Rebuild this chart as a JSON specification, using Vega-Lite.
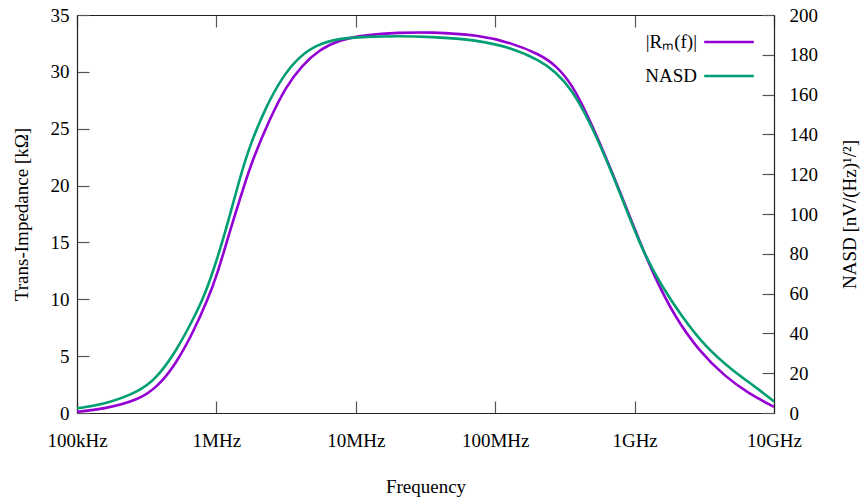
{
  "$schema": "https://vega.github.io/schema/vega-lite/v6.json",
  "autosize": {"type": "none"},
  "padding": {"left": 77, "top": 15, "right": 87, "bottom": 89},
  "width": 697,
  "height": 398,
  "background": "white",
  "config": {
    "font": "Liberation Serif",
    "view": {"stroke": null},
    "axis": {
      "labelFont": "Liberation Serif",
      "titleFont": "Liberation Serif",
      "labelFontSize": 19,
      "titleFontSize": 19,
      "titleFontWeight": "normal",
      "labelColor": "#000",
      "titleColor": "#000",
      "domainColor": "#222",
      "domainWidth": 1.2,
      "tickColor": "#555",
      "tickWidth": 1.2,
      "grid": false,
      "tickSize": -12
    }
  },
  "datasets": {
    "d": [
      {"f": 1e5, "s": "|Rₘ(f)|", "v": 0.11},
      {"f": 1.53e5, "s": "|Rₘ(f)|", "v": 0.33},
      {"f": 2.81e5, "s": "|Rₘ(f)|", "v": 1.14},
      {"f": 3.9e5, "s": "|Rₘ(f)|", "v": 2.46},
      {"f": 5.14e5, "s": "|Rₘ(f)|", "v": 4.37},
      {"f": 6.76e5, "s": "|Rₘ(f)|", "v": 7.01},
      {"f": 8.65e5, "s": "|Rₘ(f)|", "v": 9.94},
      {"f": 1.02e6, "s": "|Rₘ(f)|", "v": 12.29},
      {"f": 1.236e6, "s": "|Rₘ(f)|", "v": 15.8},
      {"f": 1.585e6, "s": "|Rₘ(f)|", "v": 20.05},
      {"f": 1.816e6, "s": "|Rₘ(f)|", "v": 22.25},
      {"f": 2.393e6, "s": "|Rₘ(f)|", "v": 25.77},
      {"f": 3.148e6, "s": "|Rₘ(f)|", "v": 28.7},
      {"f": 4.14e6, "s": "|Rₘ(f)|", "v": 30.61},
      {"f": 5.454e6, "s": "|Rₘ(f)|", "v": 31.93},
      {"f": 7.586e6, "s": "|Rₘ(f)|", "v": 32.81},
      {"f": 1.18e7, "s": "|Rₘ(f)|", "v": 33.25},
      {"f": 2.042e7, "s": "|Rₘ(f)|", "v": 33.45},
      {"f": 3.35e7, "s": "|Rₘ(f)|", "v": 33.5},
      {"f": 7.638e7, "s": "|Rₘ(f)|", "v": 33.25},
      {"f": 1.324e8, "s": "|Rₘ(f)|", "v": 32.52},
      {"f": 2.056e8, "s": "|Rₘ(f)|", "v": 31.57},
      {"f": 2.71e8, "s": "|Rₘ(f)|", "v": 30.61},
      {"f": 3.565e8, "s": "|Rₘ(f)|", "v": 28.9},
      {"f": 4.688e8, "s": "|Rₘ(f)|", "v": 25.97},
      {"f": 6.18e8, "s": "|Rₘ(f)|", "v": 22.6},
      {"f": 8.128e8, "s": "|Rₘ(f)|", "v": 19.0},
      {"f": 1.069e9, "s": "|Rₘ(f)|", "v": 15.3},
      {"f": 1.409e9, "s": "|Rₘ(f)|", "v": 11.8},
      {"f": 1.959e9, "s": "|Rₘ(f)|", "v": 8.4},
      {"f": 2.877e9, "s": "|Rₘ(f)|", "v": 5.5},
      {"f": 4.467e9, "s": "|Rₘ(f)|", "v": 3.19},
      {"f": 6.561e9, "s": "|Rₘ(f)|", "v": 1.73},
      {"f": 1e10, "s": "|Rₘ(f)|", "v": 0.53},
      {"f": 1e5, "s": "NASD", "v": 2.36},
      {"f": 1.53e5, "s": "NASD", "v": 4.02},
      {"f": 2.81e5, "s": "NASD", "v": 10.7},
      {"f": 3.69e5, "s": "NASD", "v": 17.44},
      {"f": 4.853e5, "s": "NASD", "v": 28.29},
      {"f": 6.397e5, "s": "NASD", "v": 43.37},
      {"f": 7.962e5, "s": "NASD", "v": 56.78},
      {"f": 9.397e5, "s": "NASD", "v": 70.2},
      {"f": 1.172e6, "s": "NASD", "v": 91.96},
      {"f": 1.459e6, "s": "NASD", "v": 117.1},
      {"f": 1.722e6, "s": "NASD", "v": 133.8},
      {"f": 2.265e6, "s": "NASD", "v": 153.9},
      {"f": 2.979e6, "s": "NASD", "v": 169.0},
      {"f": 3.926e6, "s": "NASD", "v": 179.0},
      {"f": 5.164e6, "s": "NASD", "v": 184.9},
      {"f": 7.586e6, "s": "NASD", "v": 188.3},
      {"f": 1.18e7, "s": "NASD", "v": 189.1},
      {"f": 2.042e7, "s": "NASD", "v": 189.4},
      {"f": 3.35e7, "s": "NASD", "v": 189.1},
      {"f": 7.638e7, "s": "NASD", "v": 187.4},
      {"f": 1.324e8, "s": "NASD", "v": 183.3},
      {"f": 2.056e8, "s": "NASD", "v": 177.4},
      {"f": 2.71e8, "s": "NASD", "v": 171.5},
      {"f": 3.565e8, "s": "NASD", "v": 162.3},
      {"f": 4.688e8, "s": "NASD", "v": 147.2},
      {"f": 6.18e8, "s": "NASD", "v": 128.6},
      {"f": 8.128e8, "s": "NASD", "v": 108.0},
      {"f": 1.13e9, "s": "NASD", "v": 81.9},
      {"f": 1.57e9, "s": "NASD", "v": 63.5},
      {"f": 2.188e9, "s": "NASD", "v": 48.4},
      {"f": 3.214e9, "s": "NASD", "v": 33.3},
      {"f": 4.989e9, "s": "NASD", "v": 21.6},
      {"f": 7.328e9, "s": "NASD", "v": 13.2},
      {"f": 1e10, "s": "NASD", "v": 5.8}
    ]
  },
  "layer": [
    {
      "data": {"name": "d"},
      "transform": [{"filter": "datum.s != 'NASD'"}],
      "mark": {"type": "line", "interpolate": "basis", "strokeWidth": 2.6, "clip": true},
      "encoding": {
        "x": {
          "field": "f", "type": "quantitative",
          "scale": {"type": "log", "domain": [1e5, 1e10]},
          "axis": {
            "orient": "bottom",
            "values": [1e5, 1e6, 1e7, 1e8, 1e9, 1e10],
            "labelExpr": "datum.value < 5e5 ? '100kHz' : datum.value < 5e6 ? '1MHz' : datum.value < 5e7 ? '10MHz' : datum.value < 5e8 ? '100MHz' : datum.value < 5e9 ? '1GHz' : '10GHz'",
            "labelPadding": 30,
            "labelFlush": false,
            "title": "Frequency",
            "titlePadding": 27
          }
        },
        "y": {
          "field": "v", "type": "quantitative",
          "scale": {"domain": [0, 35], "nice": false},
          "axis": {
            "orient": "left",
            "values": [0, 5, 10, 15, 20, 25, 30, 35],
            "labelPadding": 20,
            "title": "Trans-Impedance [kΩ]",
            "titlePadding": 19
          }
        },
        "color": {
          "field": "s", "type": "nominal",
          "scale": {"domain": ["|Rₘ(f)|", "NASD"], "range": ["#9400d3", "#009e73"]},
          "legend": {
            "orient": "none",
            "legendX": 635,
            "legendY": 10,
            "padding": 0,
            "title": null,
            "labelAlign": "right",
            "labelOffset": -49,
            "labelFont": "Liberation Serif",
            "labelFontSize": 19,
            "labelColor": "#000",
            "symbolType": "M-1.6,0H1.6",
            "symbolSize": 961,
            "symbolStrokeWidth": 2.6,
            "rowPadding": 7
          }
        }
      }
    },
    {
      "data": {"name": "d"},
      "transform": [{"filter": "datum.s == 'NASD'"}],
      "mark": {"type": "line", "interpolate": "basis", "strokeWidth": 2.6, "clip": true},
      "encoding": {
        "x": {
          "field": "f", "type": "quantitative",
          "scale": {"type": "log", "domain": [1e5, 1e10]},
          "axis": {
            "orient": "top",
            "values": [1e5, 1e6, 1e7, 1e8, 1e9, 1e10],
            "labels": false,
            "title": null
          }
        },
        "y": {
          "field": "v", "type": "quantitative",
          "scale": {"domain": [0, 200], "nice": false},
          "axis": {
            "orient": "right",
            "values": [0, 20, 40, 60, 80, 100, 120, 140, 160, 180, 200],
            "labelPadding": 27,
            "title": "NASD [nV/(Hz)¹/²]",
            "titleAngle": -90,
            "titlePadding": 42
          }
        },
        "color": {"field": "s", "type": "nominal"}
      }
    }
  ],
  "resolve": {"scale": {"y": "independent"}, "axis": {"x": "independent"}}
}
